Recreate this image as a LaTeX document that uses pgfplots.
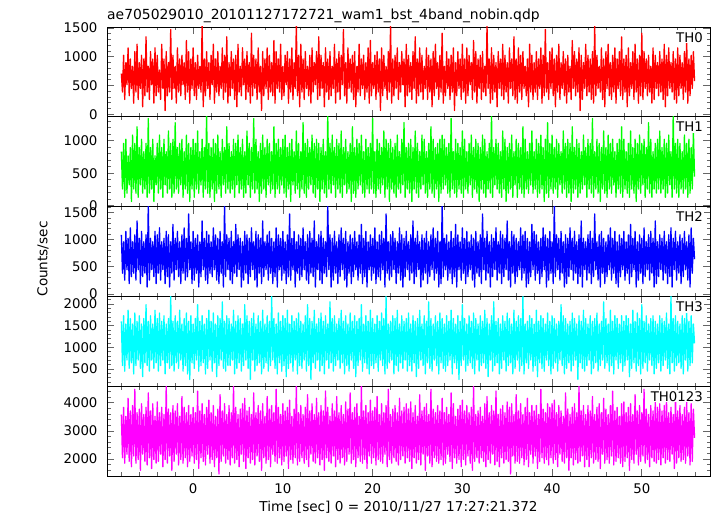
\documentclass[border=0pt]{standalone}
\usepackage{pgfplots}
\pgfplotsset{compat=1.18}
\usepackage{fontspec}
\setmainfont{DejaVu Sans}
\definecolor{qred}{RGB}{255,0,0}
\definecolor{qgreen}{RGB}{0,255,0}
\definecolor{qblue}{RGB}{0,0,255}
\definecolor{qcyan}{RGB}{0,255,255}
\definecolor{qmag}{RGB}{255,0,255}
\begin{document}
\fontsize{13}{15}\selectfont
\begin{tikzpicture}
\useasboundingbox (0pt,0pt) rectangle (717pt,516pt);
\tikzset{tag/.style={anchor=north east, fill=white, inner sep=1pt, font=\fontsize{13.3}{15}\selectfont}}
\pgfplotsset{
  panel/.style={
    scale only axis, width=603pt, height=89.8pt,
    anchor=south west,
    xmin=-9.6, xmax=57.6,
    xtick={0,10,...,50}, minor xtick={-8,-6,...,56},
    xticklabels={},
    axis line style={line width=0.9pt, black},
    major tick length=7pt, minor tick length=3.5pt,
    every tick/.style={line width=0.7pt, black!60},
    tick align=inside,
    /pgf/number format/assume math mode=true,
    /pgf/number format/1000 sep={},
    tick label style={font=\fontsize{13.3}{15}\selectfont},
    yticklabel style={xshift=-5pt},
    xticklabel style={yshift=-3pt},
    clip=true,
  },
  trace/.style={line width=1.3pt, line join=round, no marks},
}
% TH0
\begin{axis}[panel, at={(107pt,399.2pt)}, ymin=-45, ymax=1515,
  ytick={0,500,1000,1500}, minor ytick={0,100,...,1500}]
\addplot[trace, qred] table[row sep=\\, x expr=\coordindex*0.125-8, y index=0] {y\\
704\\384\\1024\\256\\896\\512\\1152\\320\\960\\448\\832\\192\\1088\\384\\1216\\256\\
896\\448\\1024\\128\\960\\320\\1344\\384\\832\\256\\1088\\512\\960\\192\\1152\\320\\
1024\\384\\768\\256\\1216\\448\\960\\64\\1088\\320\\896\\384\\1472\\256\\1024\\448\\
832\\192\\1152\\384\\960\\320\\1024\\512\\896\\256\\1280\\384\\1088\\192\\960\\448\\
1152\\320\\896\\256\\1024\\448\\832\\384\\1550\\128\\960\\320\\1088\\448\\896\\256\\
1024\\512\\1216\\192\\960\\384\\1088\\320\\832\\448\\1152\\256\\1024\\384\\1344\\192\\
896\\320\\1088\\448\\960\\256\\1024\\128\\1216\\384\\832\\320\\1152\\512\\960\\256\\
1088\\384\\896\\192\\1408\\320\\1024\\448\\960\\256\\1152\\384\\832\\64\\1088\\320\\
960\\448\\1152\\256\\1024\\384\\896\\320\\1280\\192\\1088\\448\\960\\384\\1216\\256\\
832\\320\\1024\\512\\1088\\192\\960\\384\\1152\\256\\896\\448\\1550\\320\\1024\\128\\
1216\\384\\960\\256\\1088\\448\\832\\320\\1024\\192\\1152\\384\\896\\512\\1088\\256\\
1344\\320\\1024\\448\\896\\128\\1152\\384\\960\\256\\1088\\320\\832\\448\\1216\\192\\
960\\384\\1088\\256\\1024\\512\\1472\\320\\896\\192\\1152\\448\\960\\384\\1024\\256\\
1088\\128\\832\\384\\1216\\320\\960\\448\\1024\\256\\896\\384\\1152\\192\\1280\\320\\
896\\448\\1024\\256\\1088\\384\\960\\64\\1152\\320\\1024\\448\\832\\256\\1088\\384\\
1550\\192\\960\\320\\1024\\448\\1152\\256\\896\\384\\1088\\512\\960\\128\\1216\\320\\
1024\\384\\896\\256\\1088\\448\\1344\\192\\960\\320\\1152\\384\\1024\\256\\832\\448\\
1152\\256\\1024\\384\\960\\128\\1088\\320\\1216\\448\\896\\256\\1024\\384\\1408\\192\\
832\\320\\1088\\448\\960\\256\\1024\\384\\1152\\64\\896\\320\\1088\\448\\960\\256\\
1216\\384\\960\\192\\1152\\320\\1024\\512\\896\\256\\1280\\384\\1088\\192\\960\\448\\
1024\\256\\1088\\384\\832\\320\\1550\\448\\960\\192\\1152\\256\\1024\\384\\896\\128\\
1088\\448\\960\\320\\1216\\256\\1024\\384\\896\\192\\1152\\448\\960\\320\\1344\\256\\
960\\192\\1152\\384\\1024\\256\\1088\\448\\832\\320\\960\\128\\1216\\384\\1024\\256\\
896\\384\\1088\\256\\960\\448\\1152\\192\\1024\\320\\1472\\384\\896\\256\\1088\\448\\
1152\\320\\960\\128\\1024\\384\\1216\\256\\896\\448\\1088\\320\\960\\192\\1024\\384\\
832\\256\\1280\\448\\1088\\320\\960\\384\\1152\\64\\1024\\256\\896\\448\\1216\\320\\
1024\\384\\960\\256\\1088\\192\\1550\\320\\1024\\448\\832\\384\\1152\\256\\960\\128\\
1088\\448\\1216\\320\\896\\256\\1024\\384\\1152\\192\\960\\448\\1088\\320\\1344\\256\\
960\\384\\1024\\128\\1152\\320\\896\\448\\1088\\256\\1216\\384\\960\\192\\1024\\320\\
1408\\256\\1088\\448\\960\\320\\1024\\384\\832\\192\\1152\\256\\1024\\448\\896\\320\\
1088\\384\\960\\256\\1216\\128\\1024\\320\\1152\\448\\896\\384\\1088\\256\\960\\192\\
1152\\320\\1024\\448\\896\\256\\1088\\384\\1280\\192\\960\\320\\1024\\448\\1088\\576\\
};
\node[tag] at (rel axis cs:1,1) [xshift=-6pt, yshift=-4pt] {TH0};
\end{axis}
% TH1
\begin{axis}[panel, at={(107pt,309.4pt)}, ymin=-15, ymax=1370,
  ytick={0,500,1000}, minor ytick={0,100,...,1300}]
\addplot[trace, qgreen] table[row sep=\\, x expr=\coordindex*0.125-8, y index=0] {y\\
832\\256\\960\\128\\1024\\192\\768\\320\\896\\64\\1088\\256\\960\\192\\1216\\128\\
896\\320\\1024\\192\\832\\256\\960\\128\\1344\\192\\896\\256\\1024\\64\\768\\320\\
960\\192\\1088\\256\\896\\128\\1024\\320\\832\\192\\1152\\256\\960\\128\\1024\\192\\
1280\\256\\896\\192\\960\\320\\1024\\128\\832\\256\\1088\\192\\960\\64\\896\\256\\
1024\\128\\960\\256\\1152\\192\\832\\320\\1024\\128\\896\\256\\1408\\192\\960\\128\\
896\\256\\1024\\64\\960\\192\\1088\\256\\832\\128\\1024\\320\\896\\192\\1216\\256\\
960\\192\\832\\256\\1024\\128\\960\\320\\1088\\192\\896\\256\\1024\\128\\832\\192\\
1152\\320\\960\\128\\896\\256\\1344\\192\\1024\\256\\832\\64\\960\\192\\1088\\256\\
896\\128\\1024\\320\\960\\192\\832\\256\\1216\\128\\960\\256\\1024\\192\\896\\320\\
1024\\192\\1088\\128\\896\\256\\960\\64\\1024\\320\\832\\192\\1152\\256\\960\\128\\
832\\256\\1280\\192\\960\\128\\1024\\256\\896\\320\\1088\\192\\960\\128\\1024\\256\\
960\\64\\896\\256\\1024\\192\\832\\128\\1408\\256\\960\\192\\1088\\320\\896\\128\\
1024\\256\\960\\192\\1152\\128\\896\\320\\1024\\192\\832\\256\\960\\64\\1216\\192\\
896\\128\\1024\\256\\960\\320\\1088\\192\\832\\128\\1024\\256\\896\\192\\960\\256\\
1344\\192\\832\\128\\1024\\256\\960\\192\\896\\320\\1152\\128\\1024\\256\\960\\64\\
1024\\256\\896\\192\\960\\128\\1088\\256\\832\\192\\1024\\320\\1280\\128\\896\\256\\
960\\192\\1024\\64\\896\\256\\1152\\192\\960\\128\\832\\256\\1088\\320\\1024\\192\\
832\\128\\960\\256\\1216\\192\\1024\\128\\896\\256\\960\\64\\1024\\192\\1088\\256\\
1024\\320\\896\\192\\960\\128\\1344\\256\\832\\192\\1024\\128\\960\\256\\896\\192\\
1152\\128\\1024\\256\\832\\192\\960\\320\\1088\\128\\896\\256\\1024\\192\\960\\64\\
896\\256\\1088\\192\\1024\\128\\832\\256\\960\\192\\1408\\128\\896\\320\\1024\\256\\
960\\192\\832\\128\\1152\\256\\1024\\64\\896\\192\\960\\256\\1088\\128\\832\\320\\
1024\\128\\960\\256\\896\\192\\1216\\128\\1024\\256\\832\\192\\960\\320\\1152\\192\\
832\\256\\1024\\128\\960\\192\\1088\\256\\896\\64\\1024\\192\\1280\\128\\960\\256\\
1088\\192\\896\\256\\1024\\128\\960\\320\\832\\192\\1152\\256\\960\\128\\1024\\192\\
960\\64\\1216\\192\\896\\256\\1024\\128\\960\\192\\832\\256\\1088\\320\\896\\128\\
1024\\256\\960\\192\\1344\\128\\832\\256\\1024\\192\\960\\64\\896\\256\\1152\\192\\
896\\128\\1088\\256\\960\\192\\1024\\320\\832\\128\\960\\256\\1024\\192\\1216\\128\\
1024\\256\\832\\192\\960\\128\\1152\\256\\896\\192\\1024\\64\\960\\256\\1088\\192\\
960\\320\\1024\\128\\896\\256\\1280\\192\\1024\\128\\832\\256\\960\\192\\1024\\256\\
1152\\192\\896\\256\\1024\\128\\960\\192\\1088\\320\\832\\128\\1408\\256\\960\\192\\
1024\\128\\960\\256\\832\\192\\1088\\256\\960\\128\\1024\\192\\896\\256\\1152\\448\\
};
\node[tag] at (rel axis cs:1,1) [xshift=-6pt, yshift=-4pt] {TH1};
\end{axis}
% TH2
\begin{axis}[panel, at={(107pt,219.6pt)}, ymin=-43, ymax=1607,
  ytick={0,500,1000,1500}, minor ytick={0,100,...,1600}]
\addplot[trace, qblue] table[row sep=\\, x expr=\coordindex*0.125-8, y index=0] {y\\
1088\\384\\960\\256\\1152\\448\\1024\\192\\1216\\320\\960\\384\\1088\\256\\1344\\448\\
1024\\192\\1152\\320\\960\\384\\1088\\128\\1650\\256\\1024\\448\\960\\320\\1152\\192\\
1088\\384\\1216\\256\\960\\448\\1024\\192\\1152\\320\\1088\\128\\960\\384\\1280\\256\\
1024\\448\\1152\\320\\960\\192\\1088\\384\\1216\\256\\1024\\320\\1472\\448\\960\\192\\
1152\\256\\1024\\384\\1088\\128\\960\\320\\1344\\448\\1024\\256\\1152\\192\\1088\\384\\
960\\320\\1216\\448\\1088\\256\\1024\\192\\1152\\384\\960\\128\\1650\\320\\1088\\448\\
1024\\256\\1152\\192\\960\\384\\1280\\320\\1088\\448\\1024\\128\\960\\256\\1152\\384\\
1088\\192\\1024\\320\\1216\\448\\960\\256\\1152\\128\\1088\\384\\1024\\192\\1344\\320\\
960\\448\\1088\\256\\1152\\384\\1024\\192\\960\\320\\1216\\128\\1088\\448\\1024\\256\\
1152\\384\\960\\192\\1088\\320\\1472\\256\\1024\\448\\1152\\128\\960\\384\\1088\\256\\
1024\\320\\1216\\448\\960\\256\\1088\\192\\1152\\384\\1024\\320\\1344\\128\\960\\448\\
1088\\256\\1152\\192\\1024\\384\\960\\320\\1650\\448\\1088\\128\\1024\\256\\1152\\384\\
960\\192\\1088\\320\\1216\\448\\1024\\256\\1152\\128\\960\\384\\1088\\192\\1024\\320\\
1152\\448\\960\\256\\1088\\384\\1280\\192\\1024\\320\\1152\\128\\960\\448\\1088\\256\\
1024\\384\\1216\\192\\960\\320\\1088\\256\\1152\\448\\1024\\128\\1472\\384\\960\\256\\
1088\\320\\1152\\448\\1024\\192\\960\\384\\1216\\256\\1088\\128\\1024\\320\\1152\\448\\
960\\256\\1088\\384\\1344\\192\\1024\\320\\1152\\448\\960\\128\\1088\\256\\1024\\384\\
1152\\192\\960\\320\\1088\\448\\1216\\256\\1024\\384\\1152\\128\\960\\192\\1650\\320\\
1024\\448\\1088\\256\\960\\384\\1152\\192\\1024\\320\\1280\\128\\1088\\448\\960\\256\\
1216\\384\\1024\\192\\1152\\320\\960\\448\\1088\\256\\1024\\128\\1152\\384\\960\\320\\
1088\\192\\1472\\448\\1024\\256\\1152\\384\\960\\128\\1088\\320\\1024\\448\\1216\\256\\
960\\384\\1152\\192\\1088\\320\\1024\\448\\1344\\256\\960\\128\\1152\\384\\1088\\192\\
1024\\320\\960\\448\\1216\\256\\1088\\384\\1152\\128\\1024\\192\\960\\320\\1280\\448\\
1152\\256\\1088\\384\\960\\192\\1024\\320\\1216\\448\\1088\\128\\1024\\256\\1152\\384\\
960\\192\\1650\\320\\1088\\448\\1024\\256\\1152\\384\\960\\128\\1088\\192\\1024\\320\\
1216\\448\\1024\\256\\1152\\384\\960\\192\\1088\\320\\1344\\128\\1024\\448\\960\\256\\
1088\\384\\1152\\192\\1024\\320\\1472\\448\\960\\256\\1088\\128\\1152\\384\\1024\\192\\
960\\320\\1088\\448\\1216\\256\\1024\\384\\1152\\192\\960\\128\\1088\\320\\1024\\448\\
1152\\256\\960\\384\\1088\\192\\1280\\320\\1024\\448\\1152\\128\\960\\256\\1088\\384\\
1024\\192\\1216\\320\\960\\448\\1088\\256\\1152\\384\\1024\\128\\1344\\192\\960\\320\\
1088\\448\\1024\\256\\1152\\384\\960\\192\\1088\\320\\1216\\128\\1024\\448\\1152\\256\\
960\\384\\1088\\192\\1024\\320\\1152\\448\\960\\256\\1088\\128\\1216\\384\\1024\\640\\
};
\node[tag] at (rel axis cs:1,1) [xshift=-6pt, yshift=-4pt] {TH2};
\end{axis}
% TH3
\begin{axis}[panel, at={(107pt,129.8pt)}, ymin=100, ymax=2175,
  ytick={500,1000,1500,2000}, minor ytick={200,300,...,2100}]
\addplot[trace, qcyan] table[row sep=\\, x expr=\coordindex*0.125-8, y index=0] {y\\
1600\\576\\1728\\448\\1536\\704\\1856\\512\\1664\\640\\1536\\384\\1792\\576\\1600\\704\\
1728\\512\\1536\\320\\1664\\640\\1984\\576\\1600\\448\\1728\\704\\1536\\512\\1856\\640\\
1664\\448\\1792\\576\\1600\\704\\1728\\384\\1536\\640\\1664\\512\\2176\\576\\1600\\448\\
1728\\640\\1600\\512\\1856\\704\\1536\\448\\1664\\576\\1792\\384\\1600\\256\\1728\\640\\
1536\\512\\1664\\704\\1984\\448\\1600\\576\\1728\\640\\1536\\384\\1664\\512\\1856\\704\\
1600\\448\\1792\\640\\1536\\320\\1728\\576\\1664\\704\\2048\\512\\1600\\448\\1728\\576\\
1664\\576\\1536\\704\\1856\\384\\1600\\512\\1728\\640\\1664\\448\\1536\\576\\1984\\704\\
1728\\512\\1600\\256\\1664\\704\\1792\\448\\1536\\576\\1728\\640\\1600\\384\\1856\\512\\
1536\\640\\1728\\448\\1600\\576\\2176\\704\\1664\\512\\1536\\384\\1792\\640\\1600\\448\\
1728\\576\\1664\\320\\1856\\512\\1536\\640\\1728\\448\\1600\\704\\1664\\384\\1792\\576\\
1600\\512\\1536\\704\\1728\\448\\1984\\576\\1664\\256\\1600\\640\\1856\\512\\1536\\704\\
1664\\448\\1792\\576\\1600\\384\\1728\\704\\1536\\512\\2048\\640\\1664\\448\\1728\\576\\
1536\\704\\1664\\512\\1856\\640\\1600\\384\\1728\\576\\1536\\448\\1792\\704\\1600\\512\\
1728\\320\\1600\\576\\1664\\704\\1984\\448\\1536\\640\\1728\\512\\1600\\384\\1856\\576\\
1664\\512\\1536\\640\\1728\\448\\1600\\704\\1792\\576\\1664\\384\\2176\\512\\1536\\640\\
1600\\704\\1728\\384\\1664\\576\\1856\\448\\1536\\640\\1728\\512\\1600\\704\\1664\\448\\
1792\\576\\1536\\448\\1728\\640\\1600\\320\\1664\\512\\1856\\704\\1536\\576\\1728\\384\\
1600\\640\\2048\\512\\1664\\448\\1536\\704\\1728\\576\\1600\\384\\1792\\640\\1664\\512\\
1536\\448\\1728\\576\\1600\\704\\1856\\384\\1664\\640\\1536\\512\\1728\\256\\1600\\576\\
1984\\704\\1664\\448\\1536\\576\\1728\\640\\1600\\512\\1792\\384\\1664\\704\\1536\\448\\
1728\\576\\1600\\640\\1856\\512\\1664\\320\\1536\\704\\1728\\448\\2048\\576\\1600\\640\\
1664\\384\\1536\\512\\1728\\704\\1600\\448\\1792\\576\\1664\\640\\1536\\384\\1856\\512\\
1600\\704\\1728\\448\\1664\\576\\2176\\384\\1536\\640\\1600\\512\\1728\\704\\1664\\448\\
1536\\576\\1856\\320\\1600\\640\\1728\\512\\1664\\448\\1536\\704\\1792\\576\\1600\\384\\
1728\\512\\1664\\640\\1536\\448\\1600\\704\\1984\\576\\1728\\384\\1664\\512\\1536\\640\\
1600\\448\\1792\\576\\1664\\704\\1536\\256\\1728\\640\\1600\\512\\1856\\448\\1664\\576\\
1536\\704\\1728\\384\\1600\\512\\1664\\640\\1792\\448\\1536\\576\\1600\\704\\2048\\512\\
1664\\640\\1536\\448\\1856\\576\\1600\\384\\1728\\704\\1664\\512\\1536\\640\\1728\\448\\
1600\\576\\1728\\704\\1664\\320\\1536\\512\\1856\\640\\1600\\448\\1792\\576\\1664\\384\\
1984\\512\\1600\\640\\1728\\448\\1536\\704\\1664\\576\\1728\\384\\1600\\512\\1536\\640\\
1728\\448\\1664\\576\\1600\\704\\1792\\512\\1536\\384\\2176\\640\\1664\\448\\1728\\576\\
1600\\640\\1536\\512\\1728\\384\\1664\\704\\1856\\448\\1600\\576\\1728\\640\\1536\\1088\\
};
\node[tag] at (rel axis cs:1,1) [xshift=-6pt, yshift=-4pt] {TH3};
\end{axis}
% TH0123
\begin{axis}[panel, at={(107pt,40pt)}, ymin=1400, ymax=4590,
  ytick={2000,3000,4000}, minor ytick={1400,1600,...,4400},
  xticklabels={0,10,20,30,40,50}]
\addplot[trace, qmag] table[row sep=\\, x expr=\coordindex*0.125-8, y index=0] {y\\
3584\\2048\\3840\\1856\\3520\\2176\\4160\\1920\\3712\\1728\\3904\\2112\\4480\\1856\\3648\\1984\\
3776\\1600\\3968\\2176\\3584\\1920\\3840\\1792\\4352\\2048\\3712\\1664\\3968\\1984\\3520\\1856\\
4032\\1920\\3648\\2176\\3840\\1728\\3584\\1984\\4608\\1856\\3776\\2112\\3648\\1600\\3904\\1920\\
3712\\2176\\3968\\1792\\3520\\1984\\4224\\1856\\3840\\2048\\3648\\1728\\3904\\1920\\3584\\2112\\
3840\\1856\\3648\\1984\\4416\\1664\\3712\\2048\\3968\\1920\\3584\\1792\\3840\\2176\\4096\\1856\\
3648\\1984\\3904\\1728\\3520\\2048\\3776\\1472\\4288\\1920\\3712\\2112\\3968\\1856\\3584\\1984\\
3904\\1792\\3648\\2048\\4608\\1856\\3840\\1984\\3584\\1728\\3776\\2176\\3968\\1920\\4160\\1664\\
3712\\2048\\3840\\1856\\3584\\1984\\4352\\1792\\3648\\2112\\3904\\1920\\3712\\1600\\3968\\2048\\
3520\\1856\\4224\\1984\\3776\\1728\\3904\\2176\\3648\\1920\\4480\\1856\\3840\\2048\\3584\\1792\\
3968\\1920\\3712\\2112\\3840\\1664\\4096\\1984\\3520\\1856\\3776\\2048\\4608\\1792\\3648\\1920\\
3904\\2048\\3584\\1856\\3840\\1984\\4288\\1728\\3712\\2176\\3968\\1920\\3584\\1856\\4160\\2048\\
3648\\1792\\3904\\1984\\3712\\1600\\4416\\2048\\3840\\1920\\3520\\1856\\3968\\2112\\3712\\1728\\
4224\\1984\\3648\\1856\\3904\\2048\\3584\\1792\\4032\\1920\\3776\\2176\\4352\\1856\\3648\\1984\\
3840\\1728\\3968\\2048\\3520\\1920\\4608\\1856\\3712\\1984\\3904\\1664\\3648\\2112\\4096\\1856\\
3712\\2048\\3840\\1792\\4224\\1984\\3584\\1920\\3968\\1856\\3648\\2176\\3904\\1728\\4480\\1984\\
3584\\1856\\3776\\2048\\3904\\1920\\3648\\1792\\4160\\1984\\3712\\2112\\3840\\1856\\3968\\2048\\
3776\\1920\\4032\\1664\\3648\\2048\\3904\\1856\\3520\\1984\\4288\\1792\\3712\\2176\\3840\\1600\\
3968\\2112\\3584\\1856\\4480\\1728\\3776\\2048\\3648\\1920\\3904\\1856\\3712\\1984\\4160\\1792\\
3648\\1856\\3840\\2176\\3584\\1920\\4352\\1664\\3968\\2048\\3520\\1856\\3776\\1984\\3904\\1728\\
4096\\1984\\3712\\1792\\3904\\2112\\3648\\1856\\3840\\1600\\4608\\1920\\3584\\2048\\3712\\1856\\
3840\\2048\\3520\\1920\\3968\\1728\\4224\\1984\\3648\\1856\\3904\\2176\\3712\\1792\\4416\\1920\\
3584\\1728\\3776\\2048\\3904\\1856\\3648\\1984\\4032\\1920\\3840\\1472\\3968\\2112\\3584\\1856\\
4288\\1920\\3712\\1856\\3968\\2048\\3584\\1792\\3840\\1984\\4160\\1728\\3648\\2176\\3904\\1856\\
3712\\2112\\3904\\1664\\3584\\1920\\4480\\2048\\3776\\1856\\3648\\1984\\3968\\1792\\3840\\2048\\
3968\\1856\\4096\\1984\\3648\\1728\\3904\\2176\\3712\\1920\\3520\\1856\\4352\\2048\\3776\\1600\\
3584\\2048\\3840\\1792\\3968\\1984\\3648\\1856\\4608\\1920\\3712\\2112\\3904\\1728\\3584\\1984\\
3904\\1728\\3712\\2048\\4224\\1856\\3584\\1984\\3840\\1920\\3968\\1664\\3648\\2176\\4160\\1856\\
3776\\1984\\3584\\1856\\3904\\2112\\4416\\1792\\3712\\1920\\3840\\2048\\3520\\1856\\3968\\1728\\
4032\\1920\\3648\\2048\\3840\\1600\\3968\\1984\\3584\\1856\\4288\\2176\\3712\\1792\\3904\\1920\\
3648\\2112\\4480\\1856\\3776\\1984\\3584\\1728\\3904\\2048\\3712\\1920\\4096\\1856\\3840\\1984\\
3968\\1792\\3712\\2048\\3904\\1856\\4160\\1984\\3648\\1920\\3840\\2176\\3584\\1664\\4352\\1856\\
3712\\2048\\3904\\1920\\3584\\1984\\3840\\1856\\4032\\2112\\3648\\1792\\3968\\1920\\3776\\2752\\
};
\node[tag] at (rel axis cs:1,1) [xshift=-6pt, yshift=-4pt] {TH0123};
\end{axis}
\node[anchor=base west, inner sep=0pt, font=\fontsize{13.9}{15}\selectfont] at (107pt,496.5pt) {ae705029010\_20101127172721\_wam1\_bst\_4band\_nobin.qdp};
\node[rotate=90, font=\fontsize{13.6}{15}\selectfont] at (43pt,257pt) {Counts/sec};
\node[anchor=base, font=\fontsize{13.6}{15}\selectfont] at (398.5pt,4.5pt) {Time [sec] 0 = 2010/11/27 17:27:21.372};
\end{tikzpicture}
\end{document}
